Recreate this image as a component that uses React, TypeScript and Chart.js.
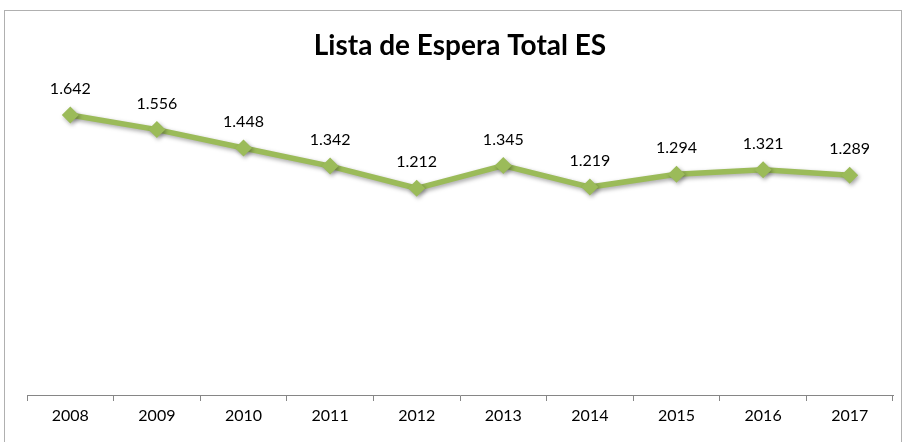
import React, { useEffect, useRef } from "react";
import { Chart, registerables } from "chart.js";

Chart.register(...registerables);

const years = ["2008", "2009", "2010", "2011", "2012", "2013", "2014", "2015", "2016", "2017"];
const waitingList = [1642, 1556, 1448, 1342, 1212, 1345, 1219, 1294, 1321, 1289];
const chartTitle = "Lista de Espera Total ES";

const fmt = (v: number) => {
  const s = String(v);
  return s.length > 3 ? s.slice(0, s.length - 3) + "." + s.slice(-3) : s;
};

const labelPlugin = {
  id: "dataLabels",
  afterDatasetsDraw(chart: any) {
    const ctx = chart.ctx;
    const meta = chart.getDatasetMeta(0);
    ctx.save();
    ctx.font = "16px Lato";
    ctx.fillStyle = "#000000";
    ctx.textAlign = "center";
    ctx.textBaseline = "middle";
    meta.data.forEach((pt: any, i: number) => {
      ctx.fillText(fmt(waitingList[i]), pt.x, pt.y - 26);
    });
    ctx.restore();
  },
};

const shadowPlugin = {
  id: "shadow",
  beforeDatasetsDraw(chart: any) {
    const ctx = chart.ctx;
    ctx.save();
    ctx.shadowColor = "rgba(0,0,0,0.35)";
    ctx.shadowBlur = 4;
    ctx.shadowOffsetX = 1.5;
    ctx.shadowOffsetY = 2;
  },
  afterDatasetsDraw(chart: any) {
    chart.ctx.restore();
  },
};

export default function App() {
  const ref = useRef<HTMLCanvasElement>(null);
  useEffect(() => {
    if (!ref.current) return;
    const chart = new Chart(ref.current, {
      type: "line",
      data: {
        labels: years,
        datasets: [
          {
            data: waitingList,
            borderColor: "#9BBB59",
            backgroundColor: "#9BBB59",
            borderWidth: 5.5,
            pointStyle: "rectRot",
            pointRadius: 8.5,
            pointHoverRadius: 8.5,
            pointBorderWidth: 0,
            tension: 0,
          },
        ],
      },
      options: {
        animation: false,
        responsive: false,
        layout: { padding: { left: 27, right: 10, top: 0, bottom: 10.6 } },
        plugins: {
          legend: { display: false },
          tooltip: { enabled: false },
          title: {
            display: true,
            text: chartTitle,
            color: "#000000",
            font: { family: "Lato", size: 28, weight: "bold" },
            padding: { top: 29.2, bottom: 25.2 },
          },
        },
        scales: {
          y: { display: false, min: 0, max: 1800 },
          x: {
            offset: true,
            border: { display: true, color: "#868686", width: 1 },
            grid: {
              offset: true,
              drawOnChartArea: false,
              drawTicks: true,
              tickLength: 6,
              color: "#868686",
            },
            ticks: {
              color: "#000000",
              padding: 5.6,
              font: { family: "Lato", size: 16 },
            },
          },
        },
      },
      plugins: [shadowPlugin, labelPlugin],
    });
    return () => chart.destroy();
  }, []);
  return (
    <div style={{ position: "fixed", left: 0, top: 0, width: 903, height: 442, background: "#fff" }}>
      <div
        style={{
          position: "absolute",
          left: 4,
          top: 10,
          width: 898,
          height: 440,
          border: "1px solid #b0b0b0",
          boxSizing: "border-box",
        }}
      />
      <canvas ref={ref} width={903} height={442} style={{ position: "absolute", left: 0, top: 0 }} />
    </div>
  );
}
